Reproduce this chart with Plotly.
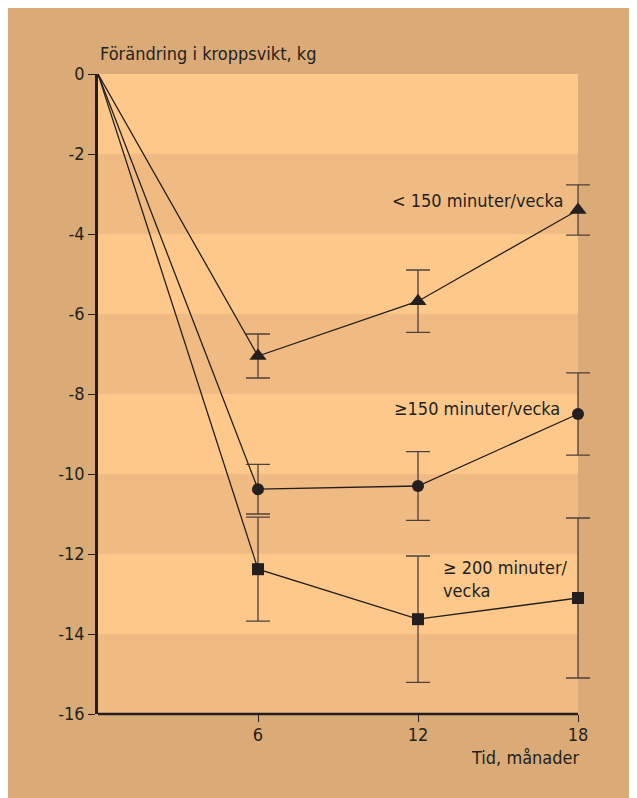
import plotly.graph_objects as go

months = [0, 6, 12, 18]
lt150 = [0, -7.05, -5.68, -3.4]
lt150_err = [0, 0.55, 0.78, 0.63]
ge150 = [0, -10.38, -10.3, -8.5]
ge150_err = [0, 0.62, 0.86, 1.03]
ge200 = [0, -12.38, -13.63, -13.1]
ge200_err = [0, 1.3, 1.58, 2.0]

y_ticks = [0, -2, -4, -6, -8, -10, -12, -14, -16]
y_ticktext = ["0", "-2", "-4", "-6", "-8", "-10", "-12", "-14", "-16"]
x_ticks = [6, 12, 18]
x_max = 18
x_range_max = 18.6

FONT = "DejaVu Sans Condensed, Liberation Sans Narrow, sans-serif"
INK = "#231f20"
BG = "#dbab77"
LIGHT = "#fdc88a"
DARK = "#f0bb82"

fig = go.Figure()

def add_series(y, err, symbol, size):
    fig.add_trace(go.Scatter(
        x=months, y=y, mode="lines", cliponaxis=False,
        line=dict(color=INK, width=1.3), showlegend=False, hoverinfo="skip"))
    fig.add_trace(go.Scatter(
        x=months[1:], y=y[1:], mode="markers", cliponaxis=False,
        marker=dict(symbol=symbol, size=size, color=INK),
        error_y=dict(type="data", array=err[1:], visible=True,
                     color="#4a4040", thickness=1.3, width=12),
        showlegend=False))

add_series(lt150, lt150_err, "triangle-up", 15)
add_series(ge150, ge150_err, "circle", 12)
add_series(ge200, ge200_err, "square", 12)

shapes = []
for i, top in enumerate(range(0, -16, -2)):
    shapes.append(dict(type="rect", xref="x", yref="y", x0=0, x1=x_max,
                       y0=top, y1=top - 2,
                       fillcolor=DARK if i % 2 else LIGHT, line_width=0,
                       layer="below"))
shapes.append(dict(type="line", xref="paper", yref="paper", x0=0,
                   x1=x_max / x_range_max, y0=0, y1=0,
                   line=dict(color=INK, width=2.5), layer="above"))

fig.update_layout(
    width=637, height=798,
    margin=dict(l=90, r=51, t=66, b=92),
    paper_bgcolor=BG, plot_bgcolor=BG,
    font=dict(family=FONT, size=17, color=INK),
    shapes=shapes,
    xaxis=dict(range=[0, x_range_max], tickvals=x_ticks, ticks="outside", ticklen=7,
               tickwidth=1.3, tickcolor=INK, showgrid=False, zeroline=False,
               showline=False, ticklabelstandoff=-3,
               tickfont=dict(size=18)),
    yaxis=dict(range=[-16, 0], tickvals=y_ticks, ticktext=y_ticktext,
               ticks="outside", ticklen=7,
               tickwidth=1.3, tickcolor=INK, showgrid=False, zeroline=False,
               showline=True, linecolor=INK, linewidth=2.5,
               tickfont=dict(size=18)),
    annotations=[
        dict(text="Förändring i kroppsvikt, kg", xref="paper", yref="paper",
             x=0.0, y=1.0, yshift=8, xanchor="left", yanchor="bottom",
             showarrow=False, font=dict(size=18)),
        dict(text="Tid, månader", xref="x", yref="paper",
             x=18, y=0, xshift=4, yshift=-31, xanchor="right", yanchor="top",
             showarrow=False, font=dict(size=18)),
        dict(text="< 150 minuter/vecka", xref="x", yref="y", x=17.5, y=-3.15,
             xanchor="right", yanchor="middle", showarrow=False,
             font=dict(size=18)),
        dict(text="≥150 minuter/vecka", xref="x", yref="y", x=17.4, y=-8.35,
             xanchor="right", yanchor="middle", showarrow=False,
             font=dict(size=18)),
        dict(text="≥ 200 minuter/<br>vecka", xref="x", yref="y", x=12.85, y=-12.63,
             xanchor="left", yanchor="middle", align="left", showarrow=False,
             font=dict(size=18)),
    ],
)

fig.write_html("out.html")
